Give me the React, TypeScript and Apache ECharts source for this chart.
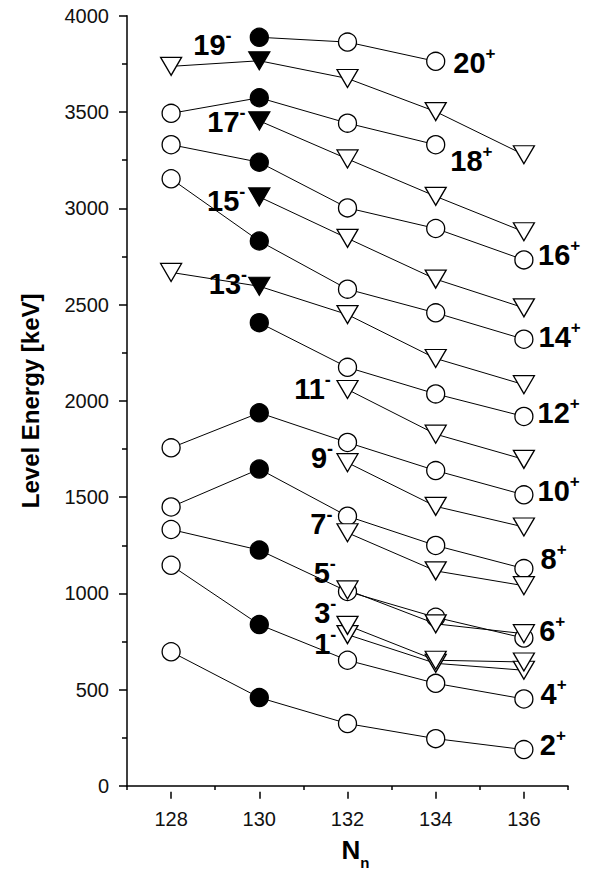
import React, { useEffect, useRef } from 'react';
import * as echarts from 'echarts';

const FONT = 'Liberation Sans, Arial, Helvetica, sans-serif';

// x categories: neutron number N_n
const neutronNumbers = [128, 130, 132, 134, 136];

// positive-parity levels (keV), null = not observed
const lvl2p = [697, 459, 324, 246, 189];
const lvl4p = [1146, 838, 653, 533, 452];
const lvl6p = [1332, 1225, 1010, 876, 768];
const lvl8p = [1449, 1646, 1401, 1249, 1129];
const lvl10p = [1756, 1938, 1784, 1638, 1512];
const lvl12p = [null, 2406, 2174, 2036, 1919];
const lvl14p = [3153, 2830, 2580, 2457, 2320];
const lvl16p = [3330, 3239, 3002, 2895, 2732];
const lvl18p = [3493, 3574, 3442, 3330, null];
const lvl20p = [null, 3888, 3863, 3763, null];

// negative-parity levels (keV)
const lvl1m = [null, null, 786, 637, 601];
const lvl3m = [null, null, 834, 653, 644];
const lvl5m = [null, null, 1018, 842, 791];
const lvl7m = [null, null, 1315, 1117, 1040];
const lvl9m = [null, null, 1679, 1452, 1345];
const lvl11m = [null, null, 2059, 1827, 1696];
const lvl13m = [2667, 2595, 2448, 2220, 2084];
const lvl15m = [null, 3059, 2844, 2632, 2483];
const lvl17m = [null, 3454, 3256, 3062, 2878];
const lvl19m = [3737, 3766, 3674, 3502, 3278];

// y tick values
const yTicks = { min: 0, max: 4000, interval: 500 };

type Level = { spin: string; parity: '+' | '-'; values: (number | null)[] };

const levels: Level[] = [
  { spin: '2', parity: '+', values: lvl2p },
  { spin: '4', parity: '+', values: lvl4p },
  { spin: '6', parity: '+', values: lvl6p },
  { spin: '8', parity: '+', values: lvl8p },
  { spin: '10', parity: '+', values: lvl10p },
  { spin: '12', parity: '+', values: lvl12p },
  { spin: '14', parity: '+', values: lvl14p },
  { spin: '16', parity: '+', values: lvl16p },
  { spin: '18', parity: '+', values: lvl18p },
  { spin: '20', parity: '+', values: lvl20p },
  { spin: '1', parity: '-', values: lvl1m },
  { spin: '3', parity: '-', values: lvl3m },
  { spin: '5', parity: '-', values: lvl5m },
  { spin: '7', parity: '-', values: lvl7m },
  { spin: '9', parity: '-', values: lvl9m },
  { spin: '11', parity: '-', values: lvl11m },
  { spin: '13', parity: '-', values: lvl13m },
  { spin: '15', parity: '-', values: lvl15m },
  { spin: '17', parity: '-', values: lvl17m },
  { spin: '19', parity: '-', values: lvl19m },
];

// label placement (which point the spin label sits next to)
type LabelSpec = { index: number; side: 'left' | 'right'; distance: number; dy: number };
const labelLayout: Record<string, LabelSpec> = {
  '20+': { index: 3, side: 'right', distance: 8, dy: 2 },
  '18+': { index: 3, side: 'right', distance: 5, dy: 16 },
  '16+': { index: 4, side: 'right', distance: 4.5, dy: -5 },
  '14+': { index: 4, side: 'right', distance: 5, dy: -2 },
  '12+': { index: 4, side: 'right', distance: 4, dy: -3 },
  '10+': { index: 4, side: 'right', distance: 4, dy: -4 },
  '8+': { index: 4, side: 'right', distance: 7, dy: -10 },
  '6+': { index: 4, side: 'right', distance: 5.6, dy: -7 },
  '4+': { index: 4, side: 'right', distance: 7, dy: -5 },
  '2+': { index: 4, side: 'right', distance: 6.3, dy: -5 },
  '19-': { index: 1, side: 'left', distance: 16.5, dy: -16 },
  '17-': { index: 1, side: 'left', distance: 2.5, dy: 1 },
  '15-': { index: 1, side: 'left', distance: 2.8, dy: 4 },
  '13-': { index: 1, side: 'left', distance: 1, dy: -2 },
  '11-': { index: 2, side: 'left', distance: 5.5, dy: 0 },
  '9-': { index: 2, side: 'left', distance: 3.2, dy: -5 },
  '7-': { index: 2, side: 'left', distance: 3.8, dy: -9 },
  '5-': { index: 2, side: 'left', distance: 0.5, dy: -17 },
  '3-': { index: 2, side: 'left', distance: 0, dy: -12.5 },
  '1-': { index: 2, side: 'left', distance: 0, dy: 9 },
};

const rich = {
  n: { fontSize: 29, fontWeight: 'bold', lineHeight: 36, color: '#000', fontFamily: FONT },
  s: { fontSize: 17, fontWeight: 'bold', lineHeight: 17, verticalAlign: 'top', color: '#000', fontFamily: FONT },
  m: { fontSize: 18, fontWeight: 'bold', lineHeight: 7, verticalAlign: 'top', color: '#000', fontFamily: FONT },
};

function buildItems(parity: '+' | '-') {
  const items: any[] = [];
  levels
    .filter((l) => l.parity === parity)
    .forEach((l) => {
      const key = l.spin + l.parity;
      const spec = labelLayout[key];
      neutronNumbers.forEach((n, i) => {
        const v = l.values[i];
        if (v == null) return;
        const item: any = { value: [n, v] };
        if (n === 130) item.itemStyle = { color: '#000' };
        if (spec && spec.index === i) {
          item.label = {
            show: true,
            position: spec.side,
            distance: spec.distance,
            offset: [0, spec.dy],
            formatter: `{n|${l.spin}}{${parity === '+' ? 's' : 'm'}|${parity}}`,
            rich,
          };
        }
        items.push(item);
      });
    });
  return items;
}

const GRID_LEFT = 127;
const GRID_RIGHT = 27;
const GRID_TOP = 15.7;
const GRID_BOTTOM = 83.3;
const CHART_W = 595;
const UNIT = (CHART_W - GRID_LEFT - GRID_RIGHT) / 10;

export default function App() {
  const ref = useRef<HTMLDivElement>(null);
  useEffect(() => {
    document.body.style.margin = '0';
    const chart = echarts.init(ref.current!, null, { renderer: 'svg' });
    const lineSeries = levels.map((l) => ({
      type: 'line',
      name: l.spin + l.parity,
      xAxisIndex: 0,
      yAxisIndex: 0,
      z: 1,
      symbol: 'none',
      silent: true,
      lineStyle: { color: '#000', width: 1 },
      data: neutronNumbers
        .map((n, i) => (l.values[i] == null ? null : [n, l.values[i]]))
        .filter((d) => d !== null),
    }));
    const option: any = {
      animation: false,
      backgroundColor: '#fff',
      textStyle: { fontFamily: FONT },
      grid: [
        { left: GRID_LEFT, right: GRID_RIGHT, top: GRID_TOP, bottom: GRID_BOTTOM },
        { left: GRID_LEFT + UNIT, right: GRID_RIGHT + UNIT, top: GRID_TOP, bottom: GRID_BOTTOM },
      ],
      xAxis: [
        {
          type: 'value',
          gridIndex: 0,
          min: 127,
          max: 137,
          interval: 2,
          axisLine: { show: true, lineStyle: { color: '#000', width: 1.5 } },
          axisTick: { show: true, length: 4, lineStyle: { color: '#000', width: 1.5 } },
          axisLabel: { show: false },
          splitLine: { show: false },
          name: '{N|N}{n|n}',
          nameLocation: 'middle',
          nameGap: 43,
          nameTextStyle: {
            rich: {
              N: { fontSize: 26, fontWeight: 'bold', lineHeight: 30, color: '#000', fontFamily: FONT, padding: [0, 0, 0, 16] },
              n: { fontSize: 15, fontWeight: 'bold', verticalAlign: 'top', padding: [26, 0, 0, 0], color: '#000', fontFamily: FONT },
            },
          },
        },
        {
          type: 'value',
          gridIndex: 1,
          min: 128,
          max: 136,
          interval: 2,
          axisLine: { show: false },
          axisTick: { show: true, length: 7, lineStyle: { color: '#000', width: 1.5 } },
          axisLabel: { show: true, fontSize: 20, color: '#111', margin: 17, fontFamily: FONT, formatter: (v: number) => String(v) },
          splitLine: { show: false },
        },
      ],
      yAxis: [
        {
          type: 'value',
          gridIndex: 0,
          min: yTicks.min,
          max: yTicks.max,
          interval: yTicks.interval,
          axisLine: { show: true, lineStyle: { color: '#000', width: 1.5 } },
          axisTick: { show: true, length: 8, lineStyle: { color: '#000', width: 1.5 } },
          minorTick: { show: true, splitNumber: 2, length: 5, lineStyle: { color: '#000', width: 1.5 } },
          axisLabel: { fontSize: 20, color: '#111', margin: 18, fontFamily: FONT, formatter: (v: number) => String(v) },
          splitLine: { show: false },
          minorSplitLine: { show: false },
          name: 'Level Energy [keV]',
          nameLocation: 'middle',
          nameRotate: 90,
          nameGap: 85,
          nameTextStyle: { fontSize: 24, fontWeight: 'bold', color: '#000', fontFamily: FONT },
        },
        { type: 'value', gridIndex: 1, show: false, min: yTicks.min, max: yTicks.max },
      ],
      series: [
        ...lineSeries,
        {
          type: 'scatter',
          name: 'positive',
          xAxisIndex: 0,
          yAxisIndex: 0,
          z: 2,
          silent: true,
          symbol: 'circle',
          symbolSize: 18,
          itemStyle: { color: '#fff', borderColor: '#000', borderWidth: 1.3, opacity: 1 },
          label: { show: false },
          data: buildItems('+'),
        },
        {
          type: 'scatter',
          name: 'negative',
          xAxisIndex: 0,
          yAxisIndex: 0,
          z: 3,
          silent: true,
          symbol: 'triangle',
          symbolSize: [21, 18],
          symbolRotate: 180,
          itemStyle: { color: '#fff', borderColor: '#000', borderWidth: 1.3, opacity: 1 },
          label: { show: false },
          data: buildItems('-'),
        },
      ],
    };
    chart.setOption(option);
    return () => chart.dispose();
  }, []);
  return (
    <div
      ref={ref}
      style={{ position: 'absolute', left: 0, top: 0, width: 595, height: 875, background: '#fff' }}
    />
  );
}
